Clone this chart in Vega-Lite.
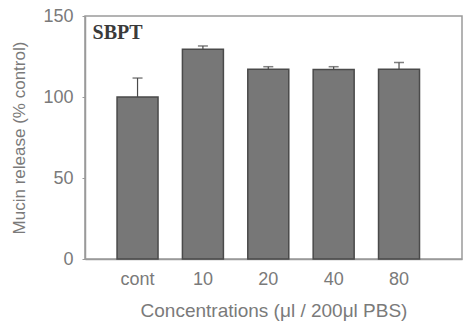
{
  "$schema": "https://vega.github.io/schema/vega-lite/v6.json",
  "autosize": "none",
  "width": 377,
  "height": 243,
  "padding": {"left": 85, "top": 16, "right": 1, "bottom": 66},
  "background": "white",
  "config": {
    "view": {"stroke": "#9a9a9a", "strokeWidth": 1.5},
    "font": "Liberation Sans"
  },
  "data": {
    "values": [
      {"conc": "cont", "value": 100, "upper": 111.7},
      {"conc": "10", "value": 129.4, "upper": 131.5},
      {"conc": "20", "value": 117.2, "upper": 118.7},
      {"conc": "40", "value": 117.0, "upper": 118.7},
      {"conc": "80", "value": 117.2, "upper": 121.3}
    ]
  },
  "encoding": {
    "x": {
      "field": "conc",
      "type": "nominal",
      "sort": null,
      "scale": {"paddingInner": 0.373, "paddingOuter": 0.57, "align": 0.43},
      "axis": {
        "title": "Concentrations (μl / 200μl PBS)",
        "labelAngle": 0,
        "tickSize": 0,
        "domainColor": "#9a9a9a",
        "domainWidth": 1.5,
        "labelFont": "Liberation Sans",
        "labelFontSize": 18,
        "labelColor": "#7a7a7a",
        "labelPadding": 11,
        "titleFont": "Liberation Sans",
        "titleFontSize": 19,
        "titleFontWeight": "normal",
        "titleColor": "#7a7a7a",
        "titlePadding": 13
      }
    }
  },
  "layer": [
    {
      "mark": {"type": "bar", "fill": "#777777", "stroke": "#4a4a4a", "strokeWidth": 1.5},
      "encoding": {
        "y": {
          "field": "value",
          "type": "quantitative",
          "scale": {"domain": [0, 150], "nice": false},
          "axis": {
            "title": "Mucin release (% control)",
            "values": [0, 50, 100, 150],
            "grid": false,
            "tickSize": 3,
            "tickColor": "#9a9a9a",
            "domainColor": "#9a9a9a",
            "domainWidth": 1.5,
            "labelFont": "Liberation Sans",
            "labelFontSize": 18,
            "labelColor": "#7a7a7a",
            "labelPadding": 9,
            "titleFont": "Liberation Sans",
            "titleFontSize": 17,
            "titleFontWeight": "normal",
            "titleColor": "#7a7a7a",
            "titlePadding": 14
          }
        }
      }
    },
    {
      "mark": {"type": "rule", "color": "#4a4a4a", "strokeWidth": 1.2},
      "encoding": {
        "y": {"field": "value", "type": "quantitative"},
        "y2": {"field": "upper"}
      }
    },
    {
      "mark": {"type": "tick", "color": "#4a4a4a", "size": 10, "thickness": 1.5, "orient": "horizontal"},
      "encoding": {
        "y": {"field": "upper", "type": "quantitative"}
      }
    },
    {
      "data": {"values": [{"label": "SBPT", "conc": "cont", "yv": 139.2}]},
      "mark": {"type": "text", "font": "Liberation Serif", "fontWeight": "bold", "fontSize": 20, "align": "left", "baseline": "middle", "color": "#3a3a3a", "dx": -45},
      "encoding": {
        "x": {"field": "conc", "type": "nominal"},
        "y": {"field": "yv", "type": "quantitative"},
        "text": {"field": "label"}
      }
    }
  ]
}
